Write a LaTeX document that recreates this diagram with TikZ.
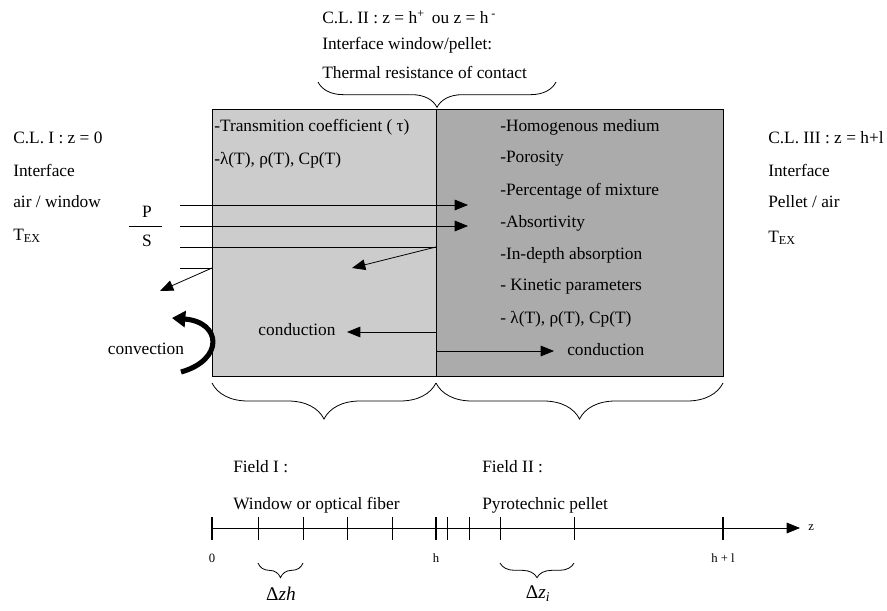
\documentclass[tikz,border=0pt]{standalone}
\usepackage{fontspec}
\setmainfont{Liberation Serif}
\usetikzlibrary{arrows.meta,positioning,decorations.pathreplacing,calc}
\definecolor{fieldone}{gray}{0.80}
\definecolor{fieldtwo}{gray}{0.67}
\tikzset{
  every picture/.append style={font=\fontsize{13}{15}\selectfont},
  lbl/.style    = {anchor=west, inner sep=0pt},
  ln/.style     = {line width=0.6pt},
  arr/.style    = {ln, -{Triangle[length=10pt,width=8pt]}},
  conv/.style   = {line width=3.8pt, -{Triangle[length=10pt,width=12pt]}},
  brc/.style    = {ln, decorate, decoration={brace, mirror, amplitude=#1}},
  tick/.style   = {line width=0.4pt},
  tickbig/.style= {line width=2pt},
  axlab/.style  = {font=\fontsize{9.5}{11}\selectfont, inner sep=0pt},
  dlab/.style   = {font=\fontsize{14.5}{16}\selectfont, inner sep=0pt},
}
\begin{document}
\begin{tikzpicture}[x=0.75pt,y=-0.75pt]
  \useasboundingbox (0,0) rectangle (887,610);
  % the two fields
  \coordinate (nw) at (212,109);
  \coordinate (mid) at (436,109);
  \coordinate (ms) at (436,376);
  \coordinate (se) at (723,376);
  \fill[fieldone] (nw) rectangle (ms);
  \fill[fieldtwo] (mid) rectangle (se);
  \draw[ln] (nw) rectangle (se);
  \draw[ln] (mid) -- (ms);

  % boundary conditions
  \node[lbl] (cl1)  at (13,138) {C.L. I : z = 0};
  \node[lbl] (if1)  at (13,170) {Interface};
  \node[lbl] (aw)   at (13,202) {air / window};
  \node[lbl] (tex1) at (13,236) {T\textsubscript{EX}};
  \node[lbl] (cl3)  at (768,138) {C.L. III : z = h+l};
  \node[lbl] (if3)  at (768,170) {Interface};
  \node[lbl] (pa)   at (768,202) {Pellet / air};
  \node[lbl] (tex3) at (768,238) {T\textsubscript{EX}};
  \node[lbl] (cl2)  at (322,17) {C.L. II : z = h\textsuperscript{+}\, ou z = h\,\textsuperscript{-}};
  \node[lbl] (if2)  at (322,45) {Interface window/pellet:};
  \node[lbl] (rc)   at (322,72) {Thermal resistance of contact};
  \draw[brc=19pt] (318,82) -- (556,82);

  % properties
  \node[lbl] (tau) at (214,127) {-Transmition coefficient ( τ)};
  \node[lbl] (prw) at (214,160) {-λ(T), ρ(T), Cp(T)};
  \foreach \t [count=\i] in {-Homogenous medium, -Porosity,
      -Percentage of mixture, -Absortivity, -In-depth absorption,
      - Kinetic parameters, {- λ(T), ρ(T), Cp(T)}}
    \node[lbl] (pp\i) at (500,{127+32*(\i-1)}) {\t};

  % incident flux P / S
  \node (pol) at (147,212) {P};
  \node (sec) at (147,241) {S};
  \draw[ln] (129,226) coordinate (fa) -- (162,226) coordinate (fb);
  \coordinate (f1) at (180,205); \coordinate (f1e) at (468,205);
  \coordinate (f2) at (180,226); \coordinate (f2e) at (468,226);
  \coordinate (f3) at (180,247); \coordinate (f3m) at (436,247);
  \coordinate (f3e) at (352,268);
  \coordinate (f4) at (180,268); \coordinate (f4m) at (212,268);
  \coordinate (f4e) at (160,291);
  \draw[arr] (f1) -- (f1e);
  \draw[arr] (f2) -- (f2e);
  \draw[ln] (f3) -- (f3m);
  \draw[arr] (f3m) -- (f3e);
  \draw[ln] (f4) -- (f4m);
  \draw[arr] (f4m) -- (f4e);

  % conduction / convection
  \node (cond1) at (297,330) {conduction};
  \coordinate (c1s) at (436,332); \coordinate (c1e) at (347,332);
  \draw[arr] (c1s) -- (c1e);
  \node[lbl] (cond2) at (567,350) {conduction};
  \coordinate (c2s) at (436,351); \coordinate (c2e) at (554,351);
  \draw[arr] (c2s) -- (c2e);
  \node (conv) at (146,349) {convection};
  \coordinate (cv1) at (181,372); \coordinate (cv2) at (172,318);
  \draw[conv] (cv1) .. controls (224,360) and (222,322) .. (cv2);

  % fields
  \draw[brc=27pt] (212,383) -- (436,383);
  \draw[brc=27pt] (436,383) -- (723,383);
  \node[lbl] (fd1) at (233,467) {Field I :};
  \node[lbl] (wof) at (233,505) {Window or optical fiber};
  \node[lbl] (fd2) at (482,467) {Field II :};
  \node[lbl] (pyr) at (482,505) {Pyrotechnic pellet};

  % z axis
  \coordinate (a0) at (212,528);
  \coordinate (az) at (800,528);
  \draw[arr] (a0) -- (az);
  \node[axlab, right=6pt of az] (zl) {z};
  \foreach \x in {258,303,347,392,447,469,500,574}
    \draw[tick] (\x,517) -- (\x,540);
  \foreach \x/\n/\t in {212/z0/0,436/zh/h,723/zhl/h + l} {
    \draw[tickbig] (\x,517) -- (\x,540);
    \node[axlab] (\n) at (\x,558) {\t};
  }
  \draw[brc=11pt] (258,563) -- (303,563);
  \draw[brc=11pt] (500,563) -- (574,563);
  \node[dlab] (dzh) at (281,594) {Δ\textit{zh}};
  \node[dlab] (dzi) at (538,594) {Δ\textit{z}\textsubscript{\textit{i}}};
\end{tikzpicture}
\end{document}
